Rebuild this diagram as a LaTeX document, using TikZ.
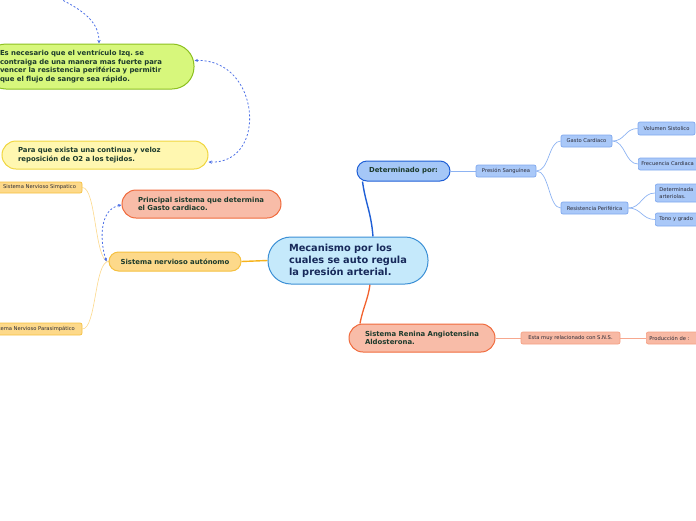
\documentclass[tikz,border=0pt]{standalone}
\usepackage{fontspec}
\setmainfont{DejaVu Sans}
\usetikzlibrary{arrows.meta,backgrounds}
\frenchspacing
\definecolor{cfill}{HTML}{C5E9FB}
\definecolor{cborder}{HTML}{3B8FD5}
\definecolor{navy}{HTML}{17295A}
\definecolor{txtdark}{HTML}{1C3A2C}
\definecolor{txtsmall}{HTML}{2A2A36}
\definecolor{detfill}{HTML}{A5C7F7}
\definecolor{detborder}{HTML}{1F5FD6}
\definecolor{bsfill}{HTML}{A9C8F8}
\definecolor{bsborder}{HTML}{7FA8EE}
\definecolor{bline}{HTML}{8DB3F2}
\definecolor{salfill}{HTML}{F8BCA8}
\definecolor{salborder}{HTML}{F06A3C}
\definecolor{sssfill}{HTML}{F8B9A4}
\definecolor{sssborder}{HTML}{F5A084}
\definecolor{sline}{HTML}{F7A88F}
\definecolor{orline}{HTML}{F2622E}
\definecolor{yfill}{HTML}{FDD98A}
\definecolor{yborder}{HTML}{F5C040}
\definecolor{yline}{HTML}{F6B31C}
\definecolor{ylight}{HTML}{FCD88A}
\definecolor{pfill}{HTML}{FFF7B0}
\definecolor{pborder}{HTML}{F0D640}
\definecolor{gfill}{HTML}{D7F77C}
\definecolor{gborder}{HTML}{8CC020}
\definecolor{dashc}{HTML}{4D70E6}
\begin{document}
\begin{tikzpicture}[x=1pt,y=-1pt,
  bignode/.style={draw, line width=1pt, inner sep=0pt, align=left,
    font=\fontsize{6.9}{8.5}\selectfont\bfseries, text=txtdark},
  smallnode/.style={draw, line width=0.7pt, rounded corners=2pt, inner sep=0pt,
    align=center, font=\fontsize{5.2}{6.6}\selectfont, text=txtsmall},
  bluesmall/.style={smallnode, fill=bsfill, draw=bsborder},
  salsmall/.style={smallnode, fill=sssfill, draw=sssborder},
  yelsmall/.style={smallnode, fill=yfill, draw=yborder},
  bluelink/.style={draw=bline, line width=0.7pt},
  sallink/.style={draw=sline, line width=0.7pt},
  yellink/.style={draw=ylight, line width=0.6pt},
  dashlink/.style={draw=dashc, line width=0.8pt, dash pattern=on 2pt off 2pt,
    {Stealth[length=3.5pt,width=3.2pt]}-{Stealth[length=3.5pt,width=3.2pt]}},
  dashone/.style={draw=dashc, line width=0.8pt, dash pattern=on 2pt off 2pt,
    -{Stealth[length=3.5pt,width=3.2pt]}}
]
\useasboundingbox (0,0) rectangle (696,520);
\clip (0,0) rectangle (696,520);

% central
\node[bignode, fill=cfill, draw=cborder, rounded corners=23pt, minimum width=160pt,
  minimum height=47pt, text width=118pt, font=\fontsize{9.8}{12}\selectfont\bfseries,
  text=navy] (central) at (348,260.5) {Mecanismo por los\\cuales se auto regula\\la presión arterial.};

% right-top branch
\node[bignode, fill=detfill, draw=detborder, rounded corners=10pt, minimum width=93pt,
  minimum height=20pt, align=center] (det) at (403.5,171) {Determinado por:};
\node[bluesmall, minimum width=60pt, minimum height=12pt] (pres) at (506,171) {Presión Sanguínea};
\node[bluesmall, minimum width=51pt, minimum height=12pt] (gasto) at (586.5,141) {Gasto Cardiaco};
\node[bluesmall, minimum width=67pt, minimum height=12pt] (resis) at (594.5,208) {Resistencia Periférica};
\node[bluesmall, minimum width=57pt, minimum height=13pt] (vol) at (666.5,128.5) {Volumen Sistolico};
\node[bluesmall, anchor=west, minimum width=68pt, minimum height=12pt, text width=62pt, align=left] (frec) at (638,164) {Frecuencia Cardiaca};
\node[bluesmall, anchor=west, minimum width=70pt, minimum height=18pt, text width=62pt, align=left] (detm) at (655,193) {Determinada\\arteriolas.};
\node[bluesmall, anchor=west, minimum width=70pt, minimum height=13pt, text width=62pt, align=left] (tono) at (655,219.5) {Tono y grado};

% bottom-right branch
\node[bignode, fill=salfill, draw=salborder, rounded corners=14pt, minimum width=146pt,
  minimum height=28pt, text width=114pt] (renina) at (422,338) {Sistema Renina Angiotensina\\Aldosterona.};
\node[salsmall, minimum width=99pt, minimum height=12pt] (esta) at (570.5,338) {Esta muy relacionado con S.N.S.};
\node[salsmall, anchor=west, minimum width=60pt, minimum height=12pt, text width=54pt, align=left] (prod) at (646,338) {Producción de :};

% left branch
\node[bignode, fill=yfill, draw=yborder, rounded corners=9.5pt, minimum width=132pt,
  minimum height=19pt, align=center] (sna) at (175,261.5) {Sistema nervioso autónomo};
\node[bignode, fill=salfill, draw=salborder, rounded corners=14pt, minimum width=159pt,
  minimum height=28pt, text width=127pt] (princ) at (201.5,204) {Principal sistema que determina\\el Gasto cardiaco.};
\node[bignode, fill=pfill, draw=pborder, rounded corners=14pt, minimum width=206pt,
  minimum height=28pt, text width=174pt] (para) at (105,155) {Para que exista una continua y veloz\\reposición de O2 a los tejidos.};
\node[bignode, fill=gfill, draw=gborder, rounded corners=22pt, minimum width=210pt,
  minimum height=45pt, text width=178pt] (esnec) at (89,66.5) {Es necesario que el ventrículo Izq. se\\contraiga de una manera mas fuerte para\\vencer la resistencia periférica y permitir\\que el flujo de sangre sea rápido.};
\node[yelsmall, minimum width=85pt, minimum height=11pt] (simp) at (39.5,187.5) {Sistema Nervioso Simpatico};
\node[yelsmall, minimum width=98pt, minimum height=12pt] (para2) at (33,329) {Sistema Nervioso Parasimpático};

\coordinate (topfree) at (56,-3);

\begin{pgfonlayer}{background}
\draw[draw=detborder, line width=1.4pt] ([xshift=25pt]central.north) .. controls +(-2,-25) and +(3,22) .. ([xshift=-41pt]det.south);
\draw[draw=orline, line width=1.3pt] ([xshift=22pt]central.south) .. controls +(-2,15) and +(3,-16) .. ([xshift=-62pt]renina.north);
\draw[draw=yline, line width=1.4pt] (central.west) -- (sna.east);
\draw[bluelink] (det.east) -- (pres.west);
\draw[bluelink] (pres.east) .. controls +(13,0) and +(-12,0) .. (gasto.west);
\draw[bluelink] (pres.east) .. controls +(13,0) and +(-12,0) .. (resis.west);
\draw[bluelink] (gasto.east) .. controls +(13,0) and +(-13,0) .. (vol.west);
\draw[bluelink] (gasto.east) .. controls +(13,0) and +(-13,0) .. (frec.west);
\draw[bluelink] (resis.east) .. controls +(13,0) and +(-13,0) .. (detm.west);
\draw[bluelink] (resis.east) .. controls +(13,0) and +(-13,0) .. (tono.west);
\draw[sallink] (renina.east) -- (esta.west);
\draw[sallink] (esta.east) -- (prod.west);
\draw[yellink] (sna.west) .. controls +(-14,0) and +(14,0) .. (simp.east);
\draw[yellink] (sna.west) .. controls +(-14,0) and +(14,0) .. (para2.east);
\end{pgfonlayer}

\draw[dashlink] ([xshift=-2pt]sna.west) .. controls +(-7,-21) and +(-22,4) .. ([yshift=-1pt]princ.west);
\draw[dashlink] ([yshift=6pt]esnec.east) .. controls +(66,-2) and +(60,2) .. ([yshift=-7pt]para.east);
\draw[dashone] (topfree) .. controls +(30,14) and +(0,-20) .. ([xshift=10pt]esnec.north);
\end{tikzpicture}
\end{document}
